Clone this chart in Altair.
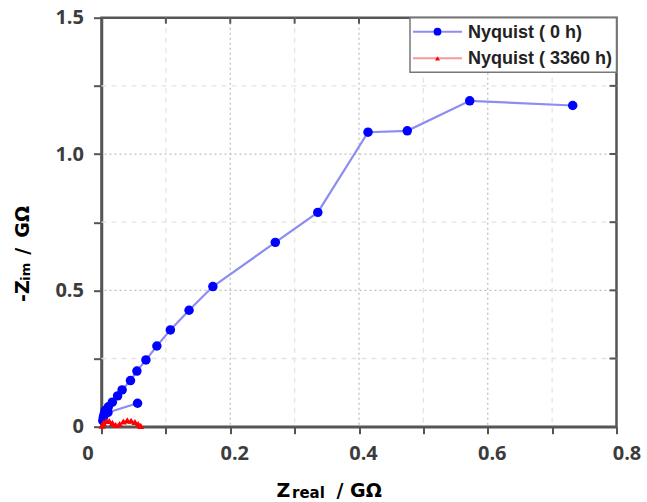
import altair as alt
import pandas as pd

# ---- data -------------------------------------------------------------
series_names = ["Nyquist ( 0 h)", "Nyquist ( 3360 h)"]

# impedance spectrum after 0 h (GOhm)
z_re_0h = [0.056, 0.010, 0.003, 0.002, 0.004, 0.0055, 0.0106, 0.0168, 0.025,
           0.032, 0.045, 0.055, 0.069, 0.086, 0.107, 0.136, 0.173, 0.270,
           0.336, 0.414, 0.475, 0.572, 0.732]
z_im_0h = [0.086, 0.052, 0.035, 0.022, 0.045, 0.059, 0.073, 0.090, 0.113,
           0.135, 0.169, 0.204, 0.245, 0.296, 0.355, 0.427, 0.514, 0.676,
           0.786, 1.080, 1.085, 1.195, 1.178]

# impedance spectrum after 3360 h (GOhm)
z_re_3360h = [0.001, 0.003, 0.007, 0.012, 0.017, 0.022, 0.028, 0.034, 0.040,
              0.046, 0.052, 0.057, 0.061]
z_im_3360h = [0.004, 0.014, 0.021, 0.021, 0.014, 0.006, 0.010, 0.019, 0.023,
              0.022, 0.017, 0.010, 0.003]

x_ticks = [0.0, 0.1, 0.2, 0.3, 0.4, 0.5, 0.6, 0.7, 0.8]
y_ticks = [0.0, 0.25, 0.5, 0.75, 1.0, 1.25, 1.5]
x_grid_major = [0.2, 0.4, 0.6]
x_grid_minor = [0.1, 0.3, 0.5, 0.7]
y_grid_major = [0.5, 1.0]
y_grid_minor = [0.25, 0.75, 1.25]

# ---- styling ----------------------------------------------------------
W, H = 515, 409
FRAME = "#555555"
BLUE, BLUE_LINE = "#0000ff", "#8c8cf2"
RED, RED_LINE = "#ff0000", "#f59a9a"
TICK_FONT = "Open Sans"
TITLE_FONT = "DejaVu Sans"
LEGEND_FONT = "Liberation Sans"

xs = alt.Scale(domain=[0, 0.8], nice=False, zero=False)
ys = alt.Scale(domain=[0, 1.5], nice=False, zero=False)

df0 = pd.DataFrame({"re": z_re_0h, "im": z_im_0h, "k": range(len(z_re_0h))})
df1 = pd.DataFrame({"re": z_re_3360h, "im": z_im_3360h, "k": range(len(z_re_3360h))})

x_axis = alt.Axis(
    values=x_ticks, title=None, grid=False,
    labelExpr="abs(round(datum.value*10) % 2) == 0 ? (datum.value == 0 ? '0' : format(datum.value, '.1f')) : ''",
    labelFlush=False, labelOverlap=False,
    labelFont=TICK_FONT, labelFontSize=20, labelFontWeight="bold", labelColor="#3c3c3c",
    labelPadding=10,
    labelOffset={"condition": [{"test": "datum.value == 0", "value": -14},
                               {"test": "datum.value > 0.75", "value": 10}],
                 "value": 4},
    domainColor=FRAME, domainWidth=2.5, tickColor=FRAME, tickWidth=2, tickSize=7,
)
y_axis = alt.Axis(
    values=y_ticks, title=None, grid=False,
    labelExpr="datum.value == 0 ? '0' : (round(datum.value*4) % 2 == 0 ? format(datum.value, '.1f') : '')",
    labelFlush=False, labelOverlap=False,
    labelFont=TICK_FONT, labelFontSize=20, labelFontWeight="bold", labelColor="#3c3c3c",
    labelPadding=10,
    domainColor=FRAME, domainWidth=2.5, tickColor=FRAME, tickWidth=2, tickSize=8,
)

X = lambda f: alt.X(f, scale=xs, axis=x_axis)
Y = lambda f: alt.Y(f, scale=ys, axis=y_axis)

# ---- grid -------------------------------------------------------------
def vgrid(vals, color, dash):
    return alt.Chart(pd.DataFrame({"v": vals})).mark_rule(
        color=color, strokeWidth=1.3, strokeDash=dash
    ).encode(x=X("v:Q"))

def hgrid(vals, color, dash):
    return alt.Chart(pd.DataFrame({"v": vals})).mark_rule(
        color=color, strokeWidth=1.3, strokeDash=dash
    ).encode(y=Y("v:Q"))

grid = (
    vgrid(x_grid_minor, "#e4e4e4", [5, 5])
    + hgrid(y_grid_minor, "#e4e4e4", [5, 5])
    + vgrid(x_grid_major, "#c0c0c0", [2, 3])
    + hgrid(y_grid_major, "#c0c0c0", [2, 3])
)

# mirrored inward ticks on the top and right edges
top_ticks = alt.Chart(pd.DataFrame({"v": x_ticks[1:-1]})).mark_rule(
    color=FRAME, strokeWidth=2
).encode(x=X("v:Q"), y=alt.value(0), y2=alt.value(6))
right_ticks = alt.Chart(pd.DataFrame({"v": y_ticks[1:-1]})).mark_rule(
    color=FRAME, strokeWidth=2
).encode(y=Y("v:Q"), x=alt.value(W - 7), x2=alt.value(W))

# ---- series -----------------------------------------------------------
line0 = alt.Chart(df0).mark_line(color=BLUE_LINE, strokeWidth=2.2).encode(
    x=X("re:Q"), y=Y("im:Q"), order="k:Q"
)
pts0 = alt.Chart(df0).mark_point(filled=True, shape="circle", size=90, color=BLUE, opacity=1).encode(
    x=X("re:Q"), y=Y("im:Q")
)
line1 = alt.Chart(df1).mark_line(color=RED_LINE, strokeWidth=2).encode(
    x=X("re:Q"), y=Y("im:Q"), order="k:Q"
)
pts1 = alt.Chart(df1).mark_point(filled=True, shape="triangle-up", size=50, color=RED, opacity=1).encode(
    x=X("re:Q"), y=Y("im:Q")
)

# ---- axis titles with subscripts ---------------------------------------
def txt(s, x, y, size, angle=0):
    return alt.Chart(pd.DataFrame({"t": [s]})).mark_text(
        font=TITLE_FONT, fontSize=size, fontWeight="bold", color="#000000",
        align="left", baseline="alphabetic", angle=angle,
    ).encode(text="t:N", x=alt.value(x), y=alt.value(y))

x_title = txt("Z", 175, 479, 19) + txt("real", 190.5, 480, 15) + txt("/ GΩ", 235, 479, 19)
y_title = (
    txt("-Z", -73, 284.3, 19, angle=270)
    + txt("im", -71.5, 263, 13, angle=270)
    + txt("/", -73, 237, 19, angle=270)
    + txt("GΩ", -73, 220, 19, angle=270)
)

# ---- legend -------------------------------------------------------------
legend_box = alt.Chart(pd.DataFrame({"a": [0]})).mark_rect(
    fill="white", stroke="#777777", strokeWidth=1.5
).encode(x=alt.value(308.5), x2=alt.value(W), y=alt.value(0), y2=alt.value(54.5))

def legend_row(label, y, line_color, mcolor, shape, msize):
    d = pd.DataFrame({"label": [label]})
    seg = alt.Chart(d).mark_rule(color=line_color, strokeWidth=2).encode(
        x=alt.value(311.5), x2=alt.value(360.5), y=alt.value(y))
    mk = alt.Chart(d).mark_point(filled=True, shape=shape, size=msize, color=mcolor, opacity=1).encode(
        x=alt.value(336), y=alt.value(y))
    tx = alt.Chart(d).mark_text(
        font=LEGEND_FONT, fontSize=18, fontWeight="bold", color="#222222",
        align="left", baseline="middle",
    ).encode(text="label:N", x=alt.value(366.5), y=alt.value(y + 1))
    return seg + mk + tx

legend = (
    legend_box
    + legend_row(series_names[0], 14, BLUE_LINE, BLUE, "circle", 60)
    + legend_row(series_names[1], 40.6, RED_LINE, RED, "triangle-up", 25)
)

chart = (
    alt.layer(grid, line0, line1, pts0, pts1, top_ticks, right_ticks,
              x_title, y_title, legend)
    .properties(
        width=W, height=H,
        autosize=alt.AutoSizeParams(type="none"),
        padding={"left": 101.5, "top": 17.7, "right": 30, "bottom": 75},
        background="white",
    )
    .configure_view(stroke=FRAME, strokeWidth=2.5)
)

chart.save("out.html", embed_options={"renderer": "svg", "actions": False})
